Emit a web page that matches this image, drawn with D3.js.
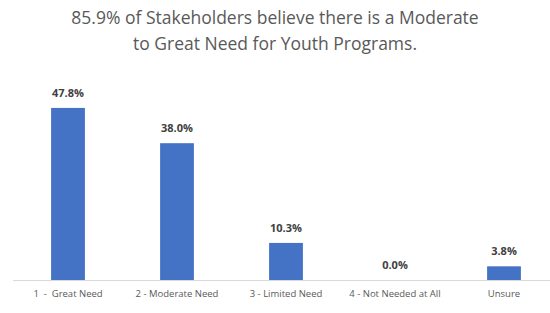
<!DOCTYPE html>
<html>
<head>
<meta charset="utf-8">
<script src="https://cdn.jsdelivr.net/npm/d3@7"></script>
<style>
  body { margin: 0; background: #fff; }
  text { font-family: "Open Sans", "Liberation Sans", sans-serif; }
</style>
</head>
<body>
<svg id="chart" width="550" height="313"></svg>
<script>
// data
var categories = ["1  -  Great Need", "2 - Moderate Need", "3 - Limited Need", "4 - Not Needed at All", "Unsure"];
var values = [47.8, 38.0, 10.3, 0.0, 3.8];
var titleLines = ["85.9% of Stakeholders believe there is a Moderate", "to Great Need for Youth Programs."];

var width = 550,
    height = 313,
    baseY = 280;

var svg = d3.select("#chart");

// title
svg.append("g").selectAll("text")
    .data(titleLines)
  .enter().append("text")
    .attr("x", 275)
    .attr("y", function(d, i) { return 24 + i * 26; })
    .attr("text-anchor", "middle")
    .style("font-size", "17.5px")
    .style("fill", "#595959")
    .text(function(d) { return d; });

var x = d3.scaleBand()
    .domain(categories)
    .range([13.5, 558.5])
    .paddingInner(0.69)
    .paddingOuter(0.345);

var y = d3.scaleLinear()
    .domain([0, 50])
    .range([baseY, baseY - 180]);

// bars
svg.append("g").selectAll("rect")
    .data(values)
  .enter().append("rect")
    .attr("x", function(d, i) { return x(categories[i]); })
    .attr("y", function(d) { return y(d); })
    .attr("width", x.bandwidth())
    .attr("height", function(d) { return baseY - y(d); })
    .style("fill", "#4472c4");

// axis line
svg.append("line")
    .attr("x1", 13).attr("x2", 550)
    .attr("y1", baseY + 0.5).attr("y2", baseY + 0.5)
    .style("stroke", "#d9d9d9")
    .style("stroke-width", 1);

// value labels
svg.append("g").selectAll("text")
    .data(values)
  .enter().append("text")
    .attr("x", function(d, i) { return x(categories[i]) + x.bandwidth() / 2; })
    .attr("y", function(d) { return y(d) - 11; })
    .attr("text-anchor", "middle")
    .style("font-size", "11px")
    .style("font-weight", "bold")
    .style("fill", "#404040")
    .text(function(d) { return d.toFixed(1) + "%"; });

// category labels
var xAxis = d3.axisBottom(x).tickSize(0).tickPadding(10);
var ax = svg.append("g")
    .attr("transform", "translate(0," + baseY + ")")
    .call(xAxis);
ax.select(".domain").remove();
ax.selectAll("text")
    .attr("xml:space", "preserve")
    .style("white-space", "pre")
    .style("font-size", "9.5px")
    .style("fill", "#595959")
    .style("font-family", "'Open Sans', 'Liberation Sans', sans-serif");
</script>
</body>
</html>
